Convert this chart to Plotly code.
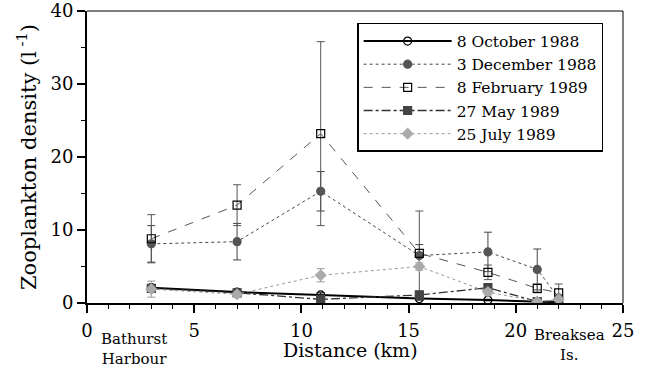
import plotly.graph_objects as go

distance = [3.0, 7.0, 10.9, 15.5, 18.7, 21.0, 22.0]

oct88 = [2.1, 1.5, 1.1, 0.6, 0.4, 0.15, 0.1]
oct88_err = [0.4, 0.3, 0.3, 0.2, 0.1, 0.05, 0.05]

dec88 = [8.1, 8.4, 15.3, 6.5, 7.0, 4.6, 0.7]
dec88_err = [2.5, 2.5, 2.7, 1.5, 2.7, 2.8, 0.3]

feb89 = [8.8, 13.4, 23.2, 6.8, 4.2, 2.0, 1.4]
feb89_err = [3.3, 2.8, 12.6, 5.8, 1.0, 0.6, 1.2]

may89 = [2.0, 1.4, 0.5, 1.1, 2.1, 0.2, 0.3]
may89_err = [0.5, 0.5, 0.3, 0.5, 0.5, 0.2, 0.2]

jul89 = [1.9, 1.2, 3.8, 5.0, 1.5, 0.2, 0.5]
jul89_err = [1.1, 0.3, 0.9, 0.5, 0.4, 0.1, 0.2]

series = [
    ("8 October 1988", oct88, oct88_err, "solid", "black", "circle-open", "black", 2),
    ("3 December 1988", dec88, dec88_err, "dot", "#444444", "circle", "#555555", 1),
    ("8 February 1989", feb89, feb89_err, "dash", "#555555", "square-open", "#333333", 1),
    ("27 May 1989", may89, may89_err, "dashdot", "#333333", "square", "#444444", 1.3),
    ("25 July 1989", jul89, jul89_err, "dot", "#999999", "diamond", "#aaaaaa", 1),
]

serif = "DejaVu Serif"

fig = go.Figure()
for name, vals, errs, dash, lcol, sym, mcol, lw in series:
    fig.add_trace(go.Scatter(
        x=distance, y=vals, name=name, mode="lines+markers",
        line=dict(color=lcol, dash=dash, width=lw),
        marker=dict(symbol=sym, size=8, color=mcol if not sym.endswith("open") else "black",
                    line=dict(color=mcol, width=1.2)),
        error_y=dict(type="data", array=errs, visible=True, color=lcol, thickness=1, width=4),
    ))

fig.update_layout(
    width=646, height=373,
    margin=dict(l=87, r=23, t=11, b=70),
    paper_bgcolor="white", plot_bgcolor="white",
    font=dict(family=serif, size=17, color="black"),
    showlegend=True,
    legend=dict(x=0.504, y=0.959, xanchor="left", yanchor="top",
                bordercolor="black", borderwidth=1.5, bgcolor="white",
                font=dict(family=serif, size=15.5), tracegroupgap=0,
                itemwidth=88),
    xaxis=dict(range=[0, 25], dtick=5, tick0=0, showgrid=False, zeroline=False,
               showline=True, linecolor="black", linewidth=2, automargin=False,
               ticks="outside", ticklen=8, tickwidth=1.5, tickcolor="black",
               ticklabelstandoff=2,
               minor=dict(dtick=1, ticks="outside", ticklen=4, tickcolor="black", tickwidth=1),
               tickfont=dict(family=serif, size=18)),
    yaxis=dict(range=[0, 40], dtick=10, tick0=0, showgrid=False, zeroline=False,
               showline=True, linecolor="black", linewidth=2, automargin=False,
               ticks="outside", ticklen=8, tickwidth=1.5, tickcolor="black",
               minor=dict(dtick=5, ticks="outside", ticklen=4, tickcolor="black", tickwidth=1),
               tickfont=dict(family=serif, size=18),
               title=dict(text="Zooplankton density (l<sup> -1</sup>)", font=dict(family=serif, size=21), standoff=8)),
)

fig.add_shape(type="line", xref="paper", yref="paper", x0=0, x1=1, y0=1, y1=1,
              line=dict(color="black", width=1))
fig.add_shape(type="line", xref="paper", yref="paper", x0=1, x1=1, y0=0, y1=1,
              line=dict(color="black", width=1))

fig.add_annotation(text="Distance (km)", x=12.3, y=0, xref="x", yref="paper",
                   yanchor="middle", yshift=-47, showarrow=False,
                   font=dict(family=serif, size=19))
fig.add_annotation(text="Bathurst<br>Harbour", x=2.2, y=0, xref="x", yref="paper",
                   yanchor="top", yshift=-25, showarrow=False, align="center",
                   font=dict(family=serif, size=15))
fig.add_annotation(text="Breaksea<br>Is.", x=22.5, y=0, xref="x", yref="paper",
                   yanchor="top", yshift=-21, showarrow=False, align="center",
                   font=dict(family=serif, size=15))

fig.write_html("out.html")
